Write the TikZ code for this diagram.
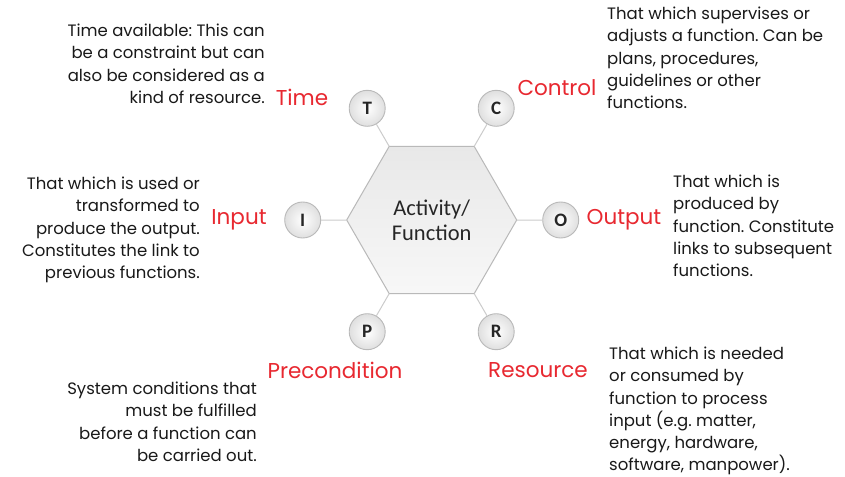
\documentclass[tikz,border=0pt]{standalone}
\usepackage{fontspec}
\setmainfont{Poppins}
\newfontfamily\calib{Carlito}
\usetikzlibrary{shapes.geometric}
\definecolor{lblred}{RGB}{232,40,48}
\frenchspacing
\tikzset{
  hexbox/.style={regular polygon, regular polygon sides=6, minimum size=170pt, inner sep=0pt, outer sep=0pt,
    draw=gray!55, line width=1pt, top color=gray!18, bottom color=gray!6, font=\calib\fontsize{22.5}{25}\selectfont, align=center, text=black!85},
  port/.style={circle, minimum size=36pt, inner sep=0pt, draw=gray!55, line width=0.9pt,
    inner color=white, outer color=gray!25, font=\calib\bfseries\fontsize{19}{20}\selectfont, text=black!85},
  link/.style={draw=gray!40, line width=1pt},
  lbl/.style={text=lblred, font=\fontsize{21.5}{24}\selectfont, inner sep=0pt},
  descr/.style={inner sep=0pt, font=\frenchspacing\fontsize{16.5}{22.2}\selectfont, text=black!90},
}
\begin{document}
\begin{tikzpicture}[x=1pt,y=-1pt]
\useasboundingbox[fill=white] (0,0) rectangle (845,476);
\node[hexbox] (hex) at (431.7,220) {Activity/\\Function};
\node[port] (T) at (367.2,108.3) {T};
\node[port] (C) at (496.2,108.3) {C};
\node[port] (I) at (302.7,220) {I};
\node[port] (O) at (560.7,220) {O};
\node[port] (P) at (367.2,331.7) {P};
\node[port] (R) at (496.2,331.7) {R};
\draw[link] (T) -- (hex.120);
\draw[link] (C) -- (hex.60);
\draw[link] (I) -- (hex.180);
\draw[link] (O) -- (hex.0);
\draw[link] (P) -- (hex.240);
\draw[link] (R) -- (hex.300);
\node[lbl] (lT) at (302,97) {Time};
\node[lbl] (lC) at (557,88) {Control};
\node[lbl] (lI) at (239,220) {Input};
\node[lbl] (lO) at (624,220) {Output};
\node[lbl] (lP) at (335,370) {Precondition};
\node[lbl] (lR) at (538,370) {Resource};
\node[descr, anchor=north east, align=right] (dT) at (265,24) {Time available: This can\\be a constraint but can\\also be considered as a\\kind of resource.};
\node[descr, anchor=north west, align=left] (dC) at (607,7) {That which supervises or\\adjusts a function. Can be\\plans, procedures,\\guidelines or other\\functions.};
\node[descr, anchor=north east, align=right] (dI) at (200,177) {That which is used or\\transformed to\\produce the output.\\Constitutes the link to\\previous functions.};
\node[descr, anchor=north west, align=left] (dO) at (673,175) {That which is\\produced by\\function. Constitute\\links to subsequent\\functions.};
\node[descr, anchor=north east, align=right] (dP) at (257,382) {System conditions that\\must be fulfilled\\before a function can\\be carried out.};
\node[descr, anchor=north west, align=left] (dR) at (609,347) {That which is needed\\or consumed by\\function to process\\input (e.g. matter,\\energy, hardware,\\software, manpower).};
\end{tikzpicture}
\end{document}
